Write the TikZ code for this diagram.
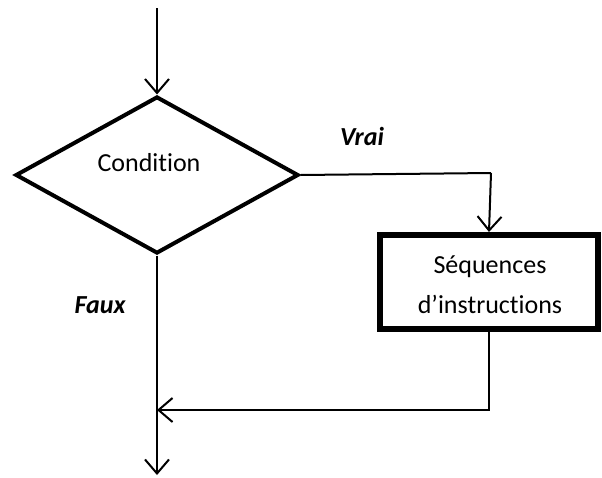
\documentclass[tikz,border=0pt]{standalone}
\usepackage{fontspec}
\setmainfont{Carlito}[Ligatures=NoCommon]
\usetikzlibrary{shapes.geometric,arrows.meta}
\begin{document}
\begin{tikzpicture}[x=1pt,y=-1pt,
  conn/.style={line width=2pt,-{Straight Barb[length=14pt,width=24pt,line width=2pt]}},
  plain/.style={line width=2pt},
  decision/.style={draw,diamond,line width=4pt,inner sep=0pt,minimum width=283pt,minimum height=157pt},
  process/.style={draw,rectangle,line width=6pt,inner sep=0pt,minimum width=218pt,minimum height=94pt},
  txt/.style={font=\fontsize{26}{32}\selectfont,align=center},
  lbl/.style={font=\fontsize{26}{32}\selectfont\bfseries\itshape}]
\useasboundingbox (0,0) rectangle (602,477);
\coordinate (start) at (157,8);
\node[decision] (cond) at (157,175) {};
\node[txt] (condtxt) at (149,163) {Condition};
\node[process] (seq) at (489,282) {};
\node[txt] (seqtxt) at (490,285) {Séquences\\[8pt]d’instructions};
\coordinate (corner) at (491,173);
\coordinate (join) at (157,410);
\coordinate (end) at (157,475);
\node[lbl] (vrai) at (362,136) {Vrai};
\node[lbl] (faux) at (100,305) {Faux};
\draw[conn] (start) -- (cond.north);
\draw[plain] (cond.east) -- (corner);
\draw[conn] (corner) -- (seq.north);
\draw[conn] (seq.south) |- (join);
\draw[conn] (cond.south) -- (end);
\end{tikzpicture}
\end{document}
